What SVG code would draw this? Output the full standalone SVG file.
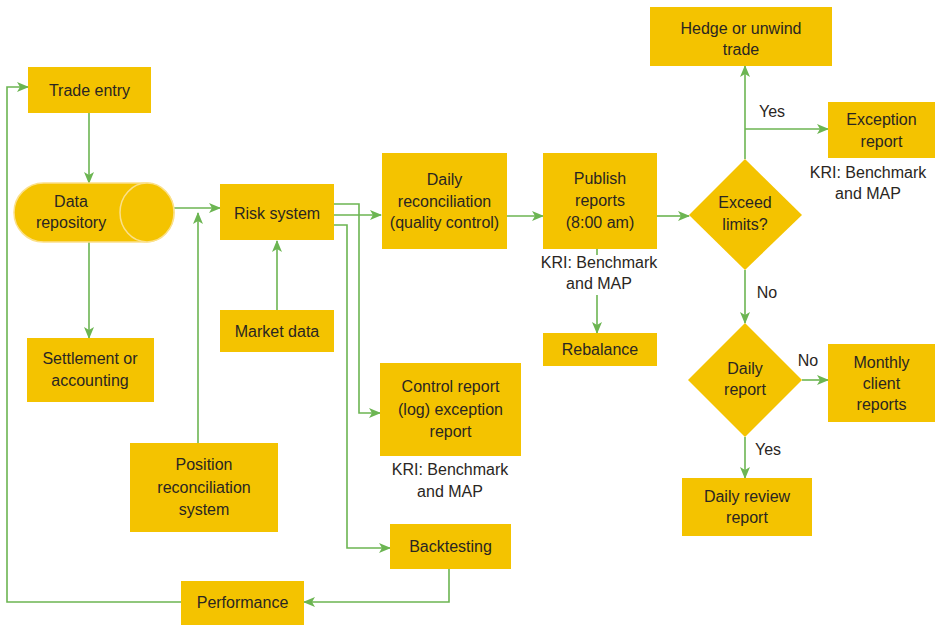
<svg xmlns="http://www.w3.org/2000/svg" width="935" height="625" viewBox="0 0 935 625">
  <defs>
    <marker id="arrow" viewBox="0 0 12 10" refX="11" refY="5" markerWidth="12" markerHeight="10" markerUnits="userSpaceOnUse" orient="auto">
      <path d="M0,0 L12,5 L0,10 L3,5 z" fill="#6cb552"/>
    </marker>
    <style>
      .box { fill: #f4c300; }
      .lbl { font-family: "Liberation Sans", Arial, sans-serif; font-size: 16px; fill: #2a2622; text-anchor: middle; }
      .note { font-family: "Liberation Sans", Arial, sans-serif; font-size: 16px; fill: #2a2622; text-anchor: middle; }
      .wire { fill: none; stroke: #6cb552; stroke-width: 1.6; }
      .arr { marker-end: url(#arrow); }
    </style>
  </defs>
  <rect width="935" height="625" fill="#ffffff"/>

  <!-- connectors -->
  <g id="connectors">
    <path class="wire arr" d="M89,113 V183"/>
    <path class="wire arr" d="M89,242 V338"/>
    <path class="wire arr" d="M174,208 H220"/>
    <path class="wire arr" d="M198,443 V213"/>
    <path class="wire arr" d="M277,310 V241"/>
    <path class="wire arr" d="M333,215 H381"/>
    <path class="wire arr" d="M333,204 H359 V413 H380"/>
    <path class="wire arr" d="M333,225 H347 V548 H390"/>
    <path class="wire arr" d="M507,216 H543"/>
    <path class="wire arr" d="M657,216 H689"/>
    <path class="wire" d="M597,248 V255"/>
    <path class="wire arr" d="M597,295 V333"/>
    <path class="wire arr" d="M745,159 V66"/>
    <path class="wire arr" d="M745,129 H828"/>
    <path class="wire arr" d="M745,270 V323"/>
    <path class="wire arr" d="M802,380 H828"/>
    <path class="wire arr" d="M745,437 V478"/>
    <path class="wire arr" d="M449,569 V602 H304"/>
    <path class="wire arr" d="M181,602 H7 V87 H28"/>
    <text class="note" x="772" y="117">Yes</text>
    <text class="note" x="767" y="298">No</text>
    <text class="note" x="808" y="366">No</text>
    <text class="note" x="768" y="455">Yes</text>
  </g>

  <!-- nodes -->
  <g id="trade-entry">
    <rect class="box" x="28" y="67" width="123" height="46"/>
    <text class="lbl" x="89.5" y="96">Trade entry</text>
  </g>
  <g id="data-repository">
    <rect class="box" x="14" y="183" width="160" height="59" rx="29.5" stroke="#fbe08a" stroke-width="1.5"/>
    <ellipse class="box" cx="147" cy="212.5" rx="27" ry="29.5" stroke="#fbe08a" stroke-width="1.5"/>
    <text class="lbl" x="71" y="207">Data</text>
    <text class="lbl" x="71" y="228">repository</text>
  </g>
  <g id="settlement">
    <rect class="box" x="27" y="338" width="127" height="64"/>
    <text class="lbl" x="90" y="364">Settlement or</text>
    <text class="lbl" x="90" y="386">accounting</text>
  </g>
  <g id="risk-system">
    <rect class="box" x="220" y="184" width="114" height="56"/>
    <text class="lbl" x="277" y="219">Risk system</text>
  </g>
  <g id="market-data">
    <rect class="box" x="220" y="310" width="114" height="42"/>
    <text class="lbl" x="277" y="337">Market data</text>
  </g>
  <g id="position-reconciliation">
    <rect class="box" x="130" y="443" width="148" height="89"/>
    <text class="lbl" x="204" y="470">Position</text>
    <text class="lbl" x="204" y="493">reconciliation</text>
    <text class="lbl" x="204" y="515">system</text>
  </g>
  <g id="daily-reconciliation">
    <rect class="box" x="382" y="153" width="125" height="96"/>
    <text class="lbl" x="444.5" y="185">Daily</text>
    <text class="lbl" x="444.5" y="207">reconciliation</text>
    <text class="lbl" x="444.5" y="228">(quality control)</text>
  </g>
  <g id="publish-reports">
    <rect class="box" x="543" y="153" width="114" height="96"/>
    <text class="lbl" x="600" y="184">Publish</text>
    <text class="lbl" x="600" y="206">reports</text>
    <text class="lbl" x="600" y="228">(8:00 am)</text>
    <text class="note" x="599" y="268">KRI: Benchmark</text>
    <text class="note" x="599" y="289">and MAP</text>
  </g>
  <g id="rebalance">
    <rect class="box" x="543" y="333" width="114" height="33"/>
    <text class="lbl" x="600" y="355">Rebalance</text>
  </g>
  <g id="control-report">
    <rect class="box" x="380" y="363" width="141" height="93"/>
    <text class="lbl" x="450.5" y="392">Control report</text>
    <text class="lbl" x="450.5" y="415">(log) exception</text>
    <text class="lbl" x="450.5" y="437">report</text>
    <text class="note" x="450" y="475">KRI: Benchmark</text>
    <text class="note" x="450" y="497">and MAP</text>
  </g>
  <g id="backtesting">
    <rect class="box" x="390" y="524" width="121" height="45"/>
    <text class="lbl" x="450.5" y="552">Backtesting</text>
  </g>
  <g id="performance">
    <rect class="box" x="181" y="581" width="123" height="44"/>
    <text class="lbl" x="242.5" y="608">Performance</text>
  </g>
  <g id="exceed-limits">
    <polygon class="box" points="745,159 802,215 745,270 689,215"/>
    <text class="lbl" x="745" y="208">Exceed</text>
    <text class="lbl" x="745" y="230">limits?</text>
  </g>
  <g id="hedge">
    <rect class="box" x="650" y="7" width="182" height="59"/>
    <text class="lbl" x="741" y="34">Hedge or unwind</text>
    <text class="lbl" x="741" y="55">trade</text>
  </g>
  <g id="exception-report">
    <rect class="box" x="828" y="102" width="107" height="56"/>
    <text class="lbl" x="881.5" y="125">Exception</text>
    <text class="lbl" x="881.5" y="147">report</text>
    <text class="note" x="868" y="178">KRI: Benchmark</text>
    <text class="note" x="868" y="199">and MAP</text>
  </g>
  <g id="daily-report">
    <polygon class="box" points="745,323 802,380 745,437 688,380"/>
    <text class="lbl" x="745" y="374">Daily</text>
    <text class="lbl" x="745" y="395">report</text>
  </g>
  <g id="monthly-client-reports">
    <rect class="box" x="828" y="344" width="107" height="78"/>
    <text class="lbl" x="881.5" y="368">Monthly</text>
    <text class="lbl" x="881.5" y="389">client</text>
    <text class="lbl" x="881.5" y="410">reports</text>
  </g>
  <g id="daily-review-report">
    <rect class="box" x="682" y="478" width="130" height="58"/>
    <text class="lbl" x="747" y="502">Daily review</text>
    <text class="lbl" x="747" y="523">report</text>
  </g>
</svg>
